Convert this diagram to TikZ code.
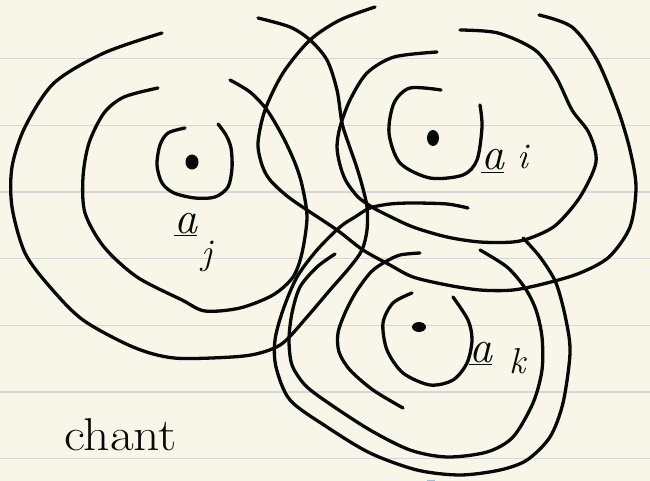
\documentclass[tikz,border=0pt]{standalone}
\usepackage{graphicx}
\definecolor{paper}{RGB}{248,246,233}
\definecolor{ruleline}{RGB}{214,214,214}
\definecolor{ink}{RGB}{8,8,8}
\definecolor{bluemark}{RGB}{150,190,230}
\tikzset{
  pen/.style={draw=ink, line width=3.3pt, line cap=round, line join=round},
  ruled/.style={draw=ruleline, line width=1.3pt},
  lbl/.style={font=\fontsize{46}{46}\selectfont, inner sep=0pt, text=ink},
  blob/.style={fill=ink}
}
\newcommand{\subfont}{\fontsize{36}{36}\selectfont\itshape}
\begin{document}
\begin{tikzpicture}[x=1pt,y=-1pt]
\fill[paper] (0,0) rectangle (650,481);
\useasboundingbox (0,0) rectangle (650,481);
\foreach \yy in {58.7,125.3,192,258.7,325.3,392,458.7}
  \draw[ruled] (0,\yy) -- (650,\yy);
\draw[bluemark, line width=1.5pt] (427,480.3) -- (435,480.3);

% ---- J group ----
\draw[pen] plot[smooth] coordinates {(185,128) (168,133) (160,145) (157,165) (162,183) (174,193) (195,198) (215,197) (228,187) (232,168) (231,148) (226,135) (218,124)};
\draw[pen] plot[smooth] coordinates {(158,88) (124,97) (104,113) (89,143) (83,177) (85,213) (104,247) (137,277) (182,300) (205,311) (240,308) (273,295) (293,277) (302,253) (307,217) (302,185) (295,163) (283,137) (267,110) (250,92) (230,80)};
\draw[pen] plot[smooth] coordinates {(162,33) (104,53) (54,83) (25,127) (12,167) (12,207) (25,253) (50,287) (83,320) (133,347) (174,358) (232,357) (260,353) (283,343) (307,317) (330,290) (350,267) (362,250) (367,230) (367,207) (362,185) (356,165) (349,145) (342,123) (337,90) (327,60) (310,40) (290,27) (258,18)};
\fill[blob] (192,162) ellipse [x radius=6.5pt, y radius=7.5pt];

% ---- I group ----
\draw[pen] plot[smooth] coordinates {(441,90) (410,88) (394,103) (389,133) (400,163) (430,178) (463,175) (477,160) (482,127) (480,105)};
\draw[pen] plot[smooth] coordinates {(437,52) (394,57) (367,73) (350,100) (340,127) (337,147) (340,165) (346,181) (358,197) (372,207) (385,214) (413,227) (447,237) (480,242) (513,242) (533,237) (556,225) (580,197) (596,162) (589,133) (572,110) (556,77) (535,50) (498,33) (460,30)};
\draw[pen] plot[smooth] coordinates {(375,7) (340,20) (310,40) (283,73) (265,110) (258,143) (262,165) (270,180) (287,196) (307,210) (337,230) (363,250) (390,265) (413,277) (447,285) (480,290) (513,290) (547,283) (580,273) (609,257) (630,227) (636,187) (630,150) (618,110) (597,60) (572,27) (539,15)};
\fill[blob] (433,138) ellipse [x radius=6pt, y radius=8pt];

% ---- K group ----
\draw[pen] plot[smooth] coordinates {(412,293) (393,303) (383,323) (387,350) (403,373) (430,385) (453,380) (467,363) (472,340) (468,320) (453,297)};
\draw[pen] plot[smooth] coordinates {(420,253) (400,255) (385,262) (371,272) (356,292) (345,313) (338,333) (339,352) (350,370) (373,390) (403,408)};
\draw[pen] plot[smooth] coordinates {(335,254) (317,267) (300,287) (292,313) (289,340) (292,365) (305,385) (327,402) (370,430) (410,450) (447,457) (487,452) (513,437) (533,403) (542,370) (542,337) (536,310) (525,288) (507,267) (480,250)};
\draw[pen] plot[smooth] coordinates {(468,208) (447,204) (413,203) (390,204) (370,208) (355,217) (340,227) (317,250) (297,277) (283,310) (275,340) (276,367) (290,400) (327,427) (370,453) (417,470) (460,475) (500,470) (527,460) (550,437) (563,403) (570,353) (566,320) (556,283) (540,257) (523,238)};
\fill[blob] (419,327) ellipse [x radius=7pt, y radius=5pt];

% ---- labels ----
\node[lbl, anchor=base west] (aj) at (174,233) {\itshape\underline{a}\kern4pt\raisebox{-32pt}{\subfont j}};
\node[lbl, anchor=base west] (ai) at (481,170) {\itshape\underline{a}\kern13pt\raisebox{1pt}{\subfont i}};
\node[lbl, anchor=base west] (ak) at (469,362) {\itshape\underline{a}\kern17pt\raisebox{-11pt}{\subfont k}};
\node[lbl, anchor=base west] (word) at (64,450) {\scalebox{1.12}[1]{chant}};
\end{tikzpicture}
\end{document}
